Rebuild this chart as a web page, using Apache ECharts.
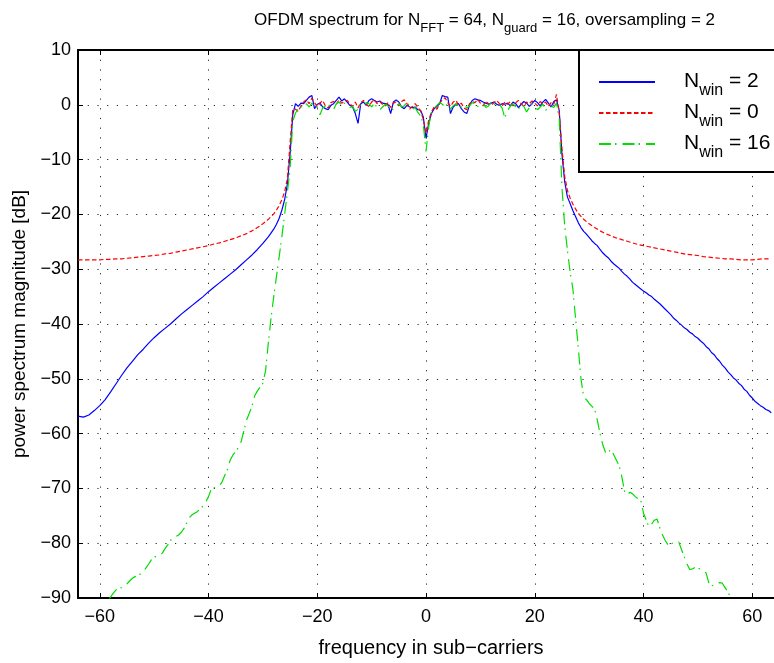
<!DOCTYPE html>
<html>
<head>
<meta charset="utf-8">
<script src="https://cdn.jsdelivr.net/npm/echarts@6/dist/echarts.min.js"></script>
<style>
  html, body { margin: 0; padding: 0; background: #ffffff; }
  #chart { width: 774px; height: 663px; }
</style>
</head>
<body>
<div id="chart"></div>
<script>
// OFDM power spectrum, N_FFT = 64, N_guard = 16, oversampling 2 (values in dB)

// tick positions
const xTicks = [-60, -40, -20, 0, 20, 40, 60];

// pass band frequencies, shared by all three curves
const passFreq = [
  -24, -23.5, -23, -22.5, -22, -21.5, -21, -20.5, -20, -19.5,
  -19, -18.5, -18, -17.5, -17, -16.5, -16, -15.5, -15, -14.5,
  -14, -13.5, -13, -12.5, -12, -11.5, -11, -10.5, -10, -9.5,
  -9, -8.5, -8, -7.5, -7, -6.5, -6, -5.5, -5, -4.5,
  -4, -3.5, -3, -2.5, -2, -1.5, -1, -0.5, 0, 0.5,
  1, 1.5, 2, 2.5, 3, 3.5, 4, 4.5, 5, 5.5,
  6, 6.5, 7, 7.5, 8, 8.5, 9, 9.5, 10, 10.5,
  11, 11.5, 12, 12.5, 13, 13.5, 14, 14.5, 15, 15.5,
  16, 16.5, 17, 17.5, 18, 18.5, 19, 19.5, 20, 20.5,
  21, 21.5, 22, 22.5, 23, 23.5, 24
];

// left stop band, coarse grid (smooth curves)
const leftFreqCoarse = [
  -64, -63, -62, -61, -60, -59, -58, -57, -56, -55,
  -54, -53, -52, -51, -50, -49, -48, -47, -46, -45,
  -44, -43, -42, -41, -40, -39, -38, -37, -36, -35,
  -34, -33, -32, -31, -30, -29, -28, -27.5, -27, -26.5,
  -26, -25.5, -25, -24.5
];

// left stop band, fine grid
const leftFreqFine = [
  -64, -63.5, -63, -62.5, -62, -61.5, -61, -60.5, -60, -59.5,
  -59, -58.5, -58, -57.5, -57, -56.5, -56, -55.5, -55, -54.5,
  -54, -53.5, -53, -52.5, -52, -51.5, -51, -50.5, -50, -49.5,
  -49, -48.5, -48, -47.5, -47, -46.5, -46, -45.5, -45, -44.5,
  -44, -43.5, -43, -42.5, -42, -41.5, -41, -40.5, -40, -39.5,
  -39, -38.5, -38, -37.5, -37, -36.5, -36, -35.5, -35, -34.5,
  -34, -33.5, -33, -32.5, -32, -31.5, -31, -30.5, -30, -29.5,
  -29, -28.5, -28, -27.5, -27, -26.5, -26, -25.5, -25, -24.5
];

// right stop band, coarse grid
const rightFreqCoarse = [
  24.5, 25, 25.5, 26, 26.5, 27, 27.5, 28, 29, 30,
  31, 32, 33, 34, 35, 36, 37, 38, 39, 40,
  41, 42, 43, 44, 45, 46, 47, 48, 49, 50,
  51, 52, 53, 54, 55, 56, 57, 58, 59, 60,
  61, 62, 63
];

// right stop band, fine grid
const rightFreqFine = [
  24.5, 25, 25.5, 26, 26.5, 27, 27.5, 28, 28.5, 29, 29.5,
  30, 30.5, 31, 31.5, 32, 32.5, 33, 33.5, 34, 34.5,
  35, 35.5, 36, 36.5, 37, 37.5, 38, 38.5, 39, 39.5,
  40, 40.5, 41, 41.5, 42, 42.5, 43, 43.5, 44, 44.5,
  45, 45.5, 46, 46.5, 47, 47.5, 48, 48.5, 49, 49.5,
  50, 50.5, 51, 51.5, 52, 52.5, 53, 53.5, 54, 54.5,
  55, 55.5, 56, 56.5, 57, 57.5, 58, 58.5, 59, 59.5,
  60, 60.5, 61, 61.5, 62, 62.5, 63, 63.5
];

// ---- N_win = 2 ----
const win2Left = [
  -56.8, -57.0, -56.6, -55.8, -54.9, -53.8, -52.4, -50.9, -49.4, -48.0,
  -46.8, -45.6, -44.6, -43.5, -42.5, -41.6, -40.8, -40.0, -39.1, -38.2,
  -37.4, -36.6, -35.8, -35.0, -34.1, -33.3, -32.5, -31.7, -30.9, -30.1,
  -29.2, -28.3, -27.4, -26.4, -25.3, -24.1, -22.7, -21.8, -20.7, -19.2,
  -17.3, -14.5, -9.0, -1.8
];
const win2Pass = [
  0.2, -0.3, 0.3, 0.2, 0.8, 1.4, 1.7, -0.7, 0.1, 0.3,
  -0.4, -0.7, -0.9, -0.1, 0.2, 0.8, 1.4, 0.7, 1.1, 0.5,
  -0.1, -0.4, -1.6, -3.4, 0.2, 0.5, -0.1, 0.8, 1.1, 0.8,
  0.5, 0.7, 0.3, 0.2, 0.1, -1.6, 0.5, 0.9, 0.5, -0.4,
  -0.7, -0.1, -0.4, -0.5, -0.4, -0.9, -1.0, -2.2, -6.1, -3.4,
  -1.6, -0.7, -0.3, 0.2, 1.7, 1.5, 1.4, -1.6, -0.4, 0.1,
  0.2, -0.7, -1.3, -1.6, -0.1, 0.8, 1.1, 0.9, 0.8, 0.5,
  0.3, 0.1, 0.3, 0.5, 0.1, -0.1, 0.2, 0.1, 0.3, -0.2,
  0.5, 0.2, -0.5, 0.1, 0.6, 0.3, -0.3, 0.2, 0.8, 0.4,
  -0.2, 0.5, 1.0, 0.3, -0.4, 0.6, 0.9
];
const win2Right = [
  -1.0, -9.0, -14.0, -16.8, -18.0, -19.3, -20.4, -21.5, -22.4, -23.1, -23.6,
  -24.2, -24.8, -25.3, -25.7, -26.4, -27.0, -27.5, -27.9, -28.5, -29.0,
  -29.4, -29.8, -30.4, -30.9, -31.3, -31.8, -32.4, -32.8, -33.2, -33.6,
  -34.0, -34.3, -34.7, -35.0, -35.5, -35.9, -36.3, -36.8, -37.3, -37.8,
  -38.3, -38.9, -39.3, -39.8, -40.2, -40.7, -41.0, -41.5, -41.8, -42.3,
  -42.6, -43.1, -43.5, -44.1, -44.5, -45.2, -45.6, -46.3, -46.8, -47.5,
  -48.0, -48.7, -49.2, -49.8, -50.2, -50.8, -51.2, -51.9, -52.3, -53.0,
  -53.5, -54.1, -54.5, -54.9, -55.2, -55.6, -55.8, -56.2
];

// ---- N_win = 0 ----
const win0Left = [
  -28.3, -28.3, -28.3, -28.3, -28.3, -28.2, -28.2, -28.1, -28.1, -28.0,
  -27.9, -27.8, -27.7, -27.6, -27.5, -27.4, -27.2, -27.1, -26.9, -26.7,
  -26.5, -26.3, -26.1, -25.9, -25.7, -25.4, -25.2, -24.9, -24.6, -24.3,
  -23.9, -23.5, -23.0, -22.4, -21.7, -20.9, -19.9, -19.2, -18.4, -17.3,
  -15.9, -13.5, -7.0, -0.8
];
const win0Pass = [
  -0.8, -1.2, -0.2, 0.5, 0.9, 0.2, 1.2, 0.4, -0.3, 0.3,
  0.8, -0.2, -0.6, 0.4, 0.6, 0.1, 0.9, 0.3, 0.6, 0.8,
  0.2, -0.3, 0.5, -0.6, 0.4, 0.8, 0.1, -0.3, 0.5, 0.9,
  0.2, 0.6, 0.1, -0.2, 0.4, -0.5, 0.3, 0.5, -0.2, 0.6,
  0.9, 0.2, -0.8, -0.3, 0.2, -0.5, -1.1, -2.6, -5.2, -2.8,
  -1.3, -0.4, -0.8, 0.2, 0.9, 1.3, 0.4, -0.3, 0.5, 0.8,
  -0.1, 0.3, -0.6, -0.9, 0.2, 0.6, 0.4, 1.0, 0.3, -0.2,
  0.6, 0.2, -0.1, 0.4, 0.8, 0.2, -0.2, 0.5, 0.1, 0.6,
  -0.2, 0.4, 0.8, 0.2, -0.3, 0.5, 0.2, 0.7, 0.3, -0.2,
  0.6, 0.2, 0.5, -0.3, 0.4, 0.1, 1.9
];
const win0Right = [
  -1.5, -8.0, -13.0, -15.6, -17.0, -18.1, -19.0, -19.8, -20.9, -21.7,
  -22.4, -23.0, -23.5, -23.9, -24.3, -24.6, -24.9, -25.2, -25.5, -25.7,
  -25.9, -26.1, -26.3, -26.5, -26.7, -26.9, -27.1, -27.3, -27.4, -27.5,
  -27.7, -27.8, -27.9, -28.0, -28.1, -28.1, -28.2, -28.3, -28.3, -28.3,
  -28.2, -28.1, -28.1
];

// ---- N_win = 16 ----
const win16Left = [
  -96.5, -96.0, -95.5, -95.0, -94.5, -94.0, -93.5, -93.0, -92.5, -92.0,
  -91.3, -90.5, -89.8, -89.1, -88.5, -88.3, -88.1, -87.8, -87.4, -86.9,
  -86.4, -86.1, -85.9, -85.6, -85.2, -84.5, -83.8, -83.0, -82.6, -82.3,
  -82.1, -81.8, -81.0, -80.3, -79.5, -79.0, -78.8, -78.5, -78.0, -77.3,
  -76.3, -75.3, -74.8, -74.5, -74.2, -73.7, -73.2, -72.5, -71.5, -70.1,
  -69.9, -69.8, -69.5, -68.8, -67.6, -66.5, -64.8, -63.9, -63.3, -62.5,
  -61.5, -59.5, -57.5, -56.3, -55.0, -53.1, -52.2, -51.5, -50.8, -48.5,
  -43.5, -38.9, -35.0, -31.3, -27.7, -24.0, -20.0, -16.0, -11.7, -3.0
];
const win16Pass = [
  -1.5, -0.8, -0.3, -0.6, 0.2, -0.4, 0.3, -0.2, -0.5, -1.8,
  -0.6, -0.2, 0.1, -0.3, -0.9, 0.2, 0.5, -0.1, 0.3, -0.2,
  -0.5, -0.3, -1.2, -0.8, 0.1, -0.2, 0.4, 0.2, -0.4, 0.3,
  -0.5, -1.0, -0.4, 0.1, -0.2, -0.7, -0.9, -0.3, 0.2, -0.4,
  -0.2, 0.5, -0.3, -0.8, -0.5, -1.4, -2.0, -3.5, -8.5, -4.0,
  -1.2, -0.6, -0.1, 0.4, 0.1, -0.4, 0.3, -0.8, -0.2, 0.2,
  -0.5, -0.3, 0.1, -0.6, -0.2, 0.4, 0.2, -0.3, 0.1, 0.3,
  -0.5, -0.2, 0.5, 0.2, -0.3, 0.1, -0.6, -2.4, -1.0, -0.3,
  0.2, -0.4, -0.8, 0.1, -0.3, -1.3, -0.5, 0.2, -0.2, -0.9,
  -0.4, 0.1, -1.0, -0.6, -0.2, -0.5, 0.3
];
const win16Right = [
  -2.5, -15.0, -22.0, -26.5, -30.5, -33.5, -38.9, -44.3, -50.0, -53.3, -53.8,
  -54.5, -55.0, -55.5, -57.5, -60.0, -62.0, -63.4, -63.5, -62.8, -63.8,
  -64.8, -65.8, -67.8, -70.5, -71.2, -70.7, -71.0, -71.5, -71.9, -72.2,
  -74.5, -75.8, -77.0, -76.5, -75.8, -75.6, -77.2, -78.5, -79.5, -80.3,
  -80.2, -79.9, -79.7, -79.8, -81.2, -82.5, -83.8, -84.8, -84.7, -84.4,
  -84.5, -84.8, -85.1, -85.4, -87.2, -87.8, -87.6, -87.3, -87.2, -87.3,
  -88.1, -88.9, -89.8, -90.6, -91.5, -92.2, -92.8, -93.3, -93.8, -94.3,
  -94.8, -95.3, -95.8, -96.3, -96.8, -97.2, -97.6, -98.0
];

function zip(freqs, values) {
  return freqs.map(function (f, i) { return [f, values[i]]; });
}
function joined(parts) {
  return [].concat.apply([], parts.map(function (p) { return zip(p[0], p[1]); }));
}

const curveWin2 = joined([[leftFreqCoarse, win2Left], [passFreq, win2Pass], [rightFreqFine, win2Right]]);
const curveWin0 = joined([[leftFreqCoarse, win0Left], [passFreq, win0Pass], [rightFreqCoarse, win0Right]]);
const curveWin16 = joined([[leftFreqFine, win16Left], [passFreq, win16Pass], [rightFreqFine, win16Right]]);

const FONT = 'Liberation Sans, Arial, Helvetica, sans-serif';
const minus = function (v) { return String(v).replace('-', '\u2212'); };
const dotted = { color: '#000000', width: 1, type: [1.2, 8.5], opacity: 0.85 };

const legendNames = { 'win2': '2', 'win0': '0', 'win16': '16' };

const chart = echarts.init(document.getElementById('chart'), null, { renderer: 'canvas' });

chart.setOption({
  animation: false,
  backgroundColor: '#ffffff',
  title: {
    text: '{m|OFDM spectrum for N}{s|FFT}{m| = 64, N}{s|guard}{m| = 16, oversampling = 2}',
    right: 54,
    top: 7,
    textStyle: {
      fontWeight: 'normal',
      rich: {
        m: { fontFamily: FONT, fontSize: 17, fontWeight: 'normal', color: '#000', lineHeight: 19, verticalAlign: 'top' },
        s: { fontFamily: FONT, fontSize: 13, fontWeight: 'normal', color: '#000', lineHeight: 14, verticalAlign: 'top', padding: [10, 0, 0, 0] }
      }
    }
  },
  grid: { left: 78, top: 50, right: -6, bottom: 61, containLabel: false },
  xAxis: [
    {
      type: 'value', min: -64, max: 64,
      name: 'frequency in sub\u2212carriers',
      nameLocation: 'middle', nameGap: 40,
      nameTextStyle: { fontFamily: FONT, fontSize: 20, color: '#000', padding: [0, 0, 0, 10] },
      axisLine: { show: true, onZero: false, lineStyle: { color: '#000', width: 2 } },
      axisTick: { show: true, inside: true, length: 5, customValues: xTicks, lineStyle: { color: '#000', width: 1 } },
      axisLabel: { customValues: xTicks, formatter: minus, fontFamily: FONT, fontSize: 18, color: '#000', margin: 10 },
      splitLine: { show: true, lineStyle: dotted }
    },
    {
      type: 'value', min: -64, max: 64, position: 'top',
      axisLine: { show: true, onZero: false, lineStyle: { color: '#000', width: 2 } },
      axisTick: { show: true, inside: true, length: 5, customValues: xTicks, lineStyle: { color: '#000', width: 1 } },
      axisLabel: { show: false },
      splitLine: { show: false }
    }
  ],
  yAxis: {
    type: 'value', min: -90, max: 10, interval: 10,
    name: 'power spectrum magnitude [dB]',
    nameLocation: 'middle', nameGap: 49,
    nameTextStyle: { fontFamily: FONT, fontSize: 19, color: '#000' },
    axisLine: { show: true, onZero: false, lineStyle: { color: '#000', width: 2 } },
    axisTick: { show: true, inside: true, length: 5, lineStyle: { color: '#000', width: 1 } },
    axisLabel: { formatter: minus, fontFamily: FONT, fontSize: 18, color: '#000', margin: 7 },
    splitLine: { show: true, lineStyle: dotted }
  },
  graphic: [
    {
      type: 'rect', z: 50,
      shape: { x: 579, y: 50, width: 220, height: 122 },
      style: { fill: '#ffffff', stroke: '#000000', lineWidth: 2 }
    }
  ],
  legend: {
    z: 60,
    orient: 'vertical',
    left: 593, top: 66,
    itemWidth: 56, itemHeight: 14, itemGap: 3,
    selectedMode: false,
    itemStyle: { opacity: 0, borderWidth: 0 },
    data: ['win2', 'win0', 'win16'],
    formatter: function (name) {
      return '{g|}{m|N}{s|win}{m| = ' + legendNames[name] + '}';
    },
    textStyle: {
      rich: {
        g: { width: 24 },
        m: { fontFamily: FONT, fontSize: 21, color: '#000', lineHeight: 22, verticalAlign: 'top' },
        s: { fontFamily: FONT, fontSize: 16, color: '#000', lineHeight: 16, verticalAlign: 'top', padding: [12, 0, 0, 0] }
      }
    }
  },
  series: [
    {
      name: 'win2', type: 'line', data: curveWin2, symbol: 'none', clip: true,
      lineStyle: { color: '#0000ff', width: 1.2, type: 'solid' },
      itemStyle: { color: '#0000ff' }
    },
    {
      name: 'win0', type: 'line', data: curveWin0, symbol: 'none', clip: true,
      lineStyle: { color: '#ff0000', width: 1.2, type: [4.5, 2.5] },
      itemStyle: { color: '#ff0000' }
    },
    {
      name: 'win16', type: 'line', data: curveWin16, symbol: 'none', clip: true,
      lineStyle: { color: '#00dd00', width: 1.2, type: [12, 4, 1.5, 6] },
      itemStyle: { color: '#00dd00' }
    }
  ]
});
</script>
</body>
</html>
